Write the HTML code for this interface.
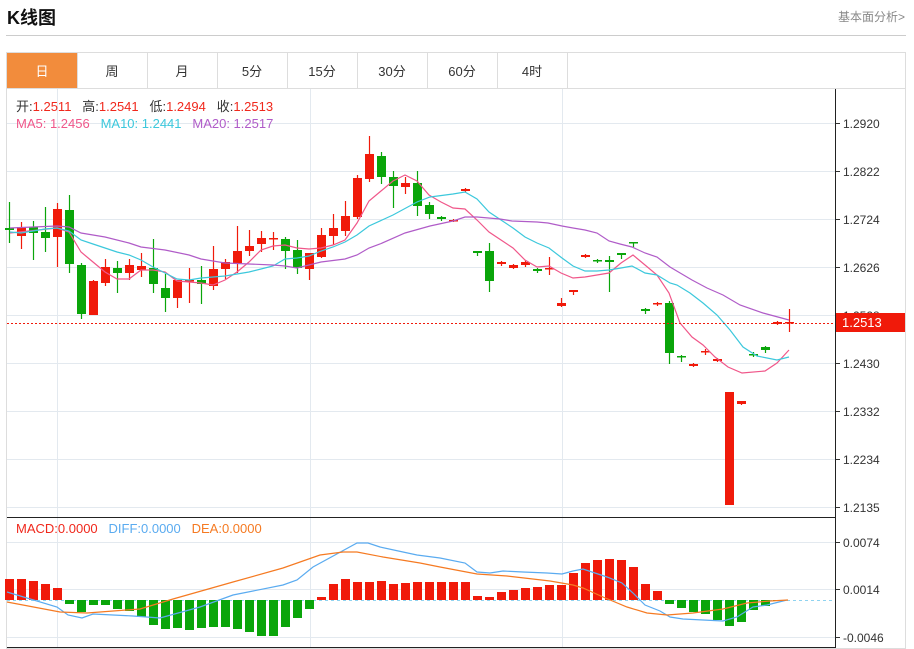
<!DOCTYPE html>
<html><head><meta charset="utf-8"><style>
body{margin:0;background:#fff;font-family:"Liberation Sans","Noto Sans CJK SC",sans-serif;}
#w{position:relative;width:914px;height:649px;overflow:hidden;}
.t{position:absolute;white-space:nowrap}
</style></head><body><div id="w">
<div class="t" style="left:7px;top:4px;font-size:18px;font-weight:bold;color:#111">K线图</div>
<div class="t" style="left:838px;top:8px;font-size:12px;color:#888">基本面分析&gt;</div>
<div style="position:absolute;left:6px;top:35px;width:900px;height:1px;background:#ccc"></div>
<svg id="s" width="914" height="649" style="position:absolute;left:0;top:0"></svg>
<div class="t" style="left:16px;top:96px;font-size:13px;color:#333">开:<span style="color:#f0281c">1.2511</span>&nbsp;&nbsp;&nbsp;高:<span style="color:#f0281c">1.2541</span>&nbsp;&nbsp;&nbsp;低:<span style="color:#f0281c">1.2494</span>&nbsp;&nbsp;&nbsp;收:<span style="color:#f0281c">1.2513</span></div>
<div class="t" style="left:16px;top:116px;font-size:13px"><span style="color:#f0578a">MA5: 1.2456</span>&nbsp;&nbsp;&nbsp;<span style="color:#3cc8dc">MA10: 1.2441</span>&nbsp;&nbsp;&nbsp;<span style="color:#b05cc8">MA20: 1.2517</span></div>
<div class="t" style="left:16px;top:521px;font-size:13px"><span style="color:#f0281c">MACD:0.0000</span>&nbsp;&nbsp;&nbsp;<span style="color:#5aabf0">DIFF:0.0000</span>&nbsp;&nbsp;&nbsp;<span style="color:#f57a22">DEA:0.0000</span></div>
</div>
<script>
var s='';
function L(x1,y1,x2,y2,c,w,d){s+='<line x1="'+x1+'" y1="'+y1+'" x2="'+x2+'" y2="'+y2+'" stroke="'+c+'" stroke-width="'+(w||1)+'"'+(d?' stroke-dasharray="'+d+'"':'')+'/>';}
function R(x,y,w,h,c){s+='<rect x="'+x+'" y="'+y+'" width="'+w+'" height="'+h+'" fill="'+c+'"/>';}
function T(x,y,t,c,sz,a){s+='<text x="'+x+'" y="'+y+'" fill="'+c+'" font-size="'+(sz||12)+'" text-anchor="'+(a||'start')+'" font-family="Liberation Sans, Noto Sans CJK SC, sans-serif">'+t+'</text>';}
function P(pts,c){s+='<polyline fill="none" stroke="'+c+'" stroke-width="1.2" points="'+pts+'"/>';}
s+='<rect x="6.5" y="52.5" width="899" height="596" fill="none" stroke="#ddd"/>';
var tabs=['日','周','月','5分','15分','30分','60分','4时'];
R(7,53,70,35,'#f28c3c');
for(var i=0;i<8;i++){var x=7+70*i;L(x+70.5,53,x+70.5,88,'#ddd');T(x+35,76,tabs[i],i==0?'#fff':'#333',13,'middle');}
L(7,88.5,905,88.5,'#ddd');
var gy=[123,171,219,267,315,363,411,459,507],gl=['1.2920','1.2822','1.2724','1.2626','1.2528','1.2430','1.2332','1.2234','1.2135'];
for(i=0;i<9;i++){L(7,gy[i]+.5,835,gy[i]+.5,'#e3e9ef');L(835,gy[i]+.5,840,gy[i]+.5,'#333');T(843,gy[i]+5,gl[i],'#333',12);}
[57,310,562].forEach(function(x){L(x+.5,89,x+.5,647,'#e3e9ef');});
var my=[542,589,637],ml=['0.0074','0.0014','-0.0046'];
for(i=0;i<3;i++){L(7,my[i]+.5,835,my[i]+.5,'#e3e9ef');L(835,my[i]+.5,840,my[i]+.5,'#333');T(843,my[i]+5,ml[i],'#333',12);}
L(7,517.5,835,517.5,'#222');L(7,647.5,835,647.5,'#222');
L(835.5,89,835.5,648,'#222');
var C=[[228,230,202,243,'g'],[227,236,222,249,'r'],[227,233,221,260,'g'],[232,238,207,252,'g'],[209,237,203,267,'r'],[210,264,195,273,'g'],[265,314,263,319,'g'],[281,315,280,315,'r'],[267,283,259,286,'r'],[268,273,261,293,'g'],[265,273,259,280,'r'],[266,270,253,277,'r'],[268,284,239,293,'g'],[288,298,274,312,'g'],[280,298,280,308,'r'],[280,281,268,303,'r'],[280,284,266,304,'g'],[269,286,246,290,'r'],[262,269,259,279,'r'],[251,263,226,273,'r'],[246,251,230,256,'r'],[238,244,231,252,'r'],[238,239,232,250,'r'],[239,251,237,269,'g'],[250,268,240,274,'g'],[253,269,253,280,'r'],[235,257,228,258,'r'],[228,236,214,245,'r'],[216,231,201,236,'r'],[178,217,175,219,'r'],[154,179,136,182,'r'],[156,177,152,184,'g'],[177,186,171,208,'g'],[183,187,177,194,'r'],[183,206,171,216,'g'],[205,214,202,219,'g'],[217,219,216,221,'g'],[220,221,219,222,'r'],[189,191,188,192,'r'],[251,253,251,256,'g'],[251,281,243,292,'g'],[262,264,261,266,'r'],[265,268,264,269,'r'],[262,265,260,267,'r'],[269,271,268,273,'g'],[268,269,257,275,'r'],[303,306,298,307,'r'],[290,292,290,295,'r'],[255,257,254,258,'r'],[260,261,259,263,'g'],[260,262,256,292,'g'],[253,255,253,259,'g'],[242,243,242,247,'g'],[309,311,308,314,'g'],[303,304,302,306,'r'],[303,353,301,364,'g'],[356,357,355,362,'g'],[364,366,363,367,'r'],[351,352,349,355,'r'],[359,361,358,362,'r'],[392,505,392,505,'r'],[401,404,401,405,'r'],[354,355,352,357,'g'],[347,350,346,353,'g'],[322,324,321,325,'r'],[322,323,309,332,'r']];
var RC='#f01a0a',GC='#0aa50a';
C.forEach(function(c,i){var x=9.5+12*i,col=c[4]=='r'?RC:GC;L(x,c[2],x,c[3],col,1.2);R(x-4.5,c[0],9,Math.max(c[1]-c[0],1.5),col);});
P('10,233 57,228 69,232 81,252 93,262 105,272 117,279 129,279 141,270 153,270 165,272 177,281 189,282 201,283 213,285 225,280 237,272 249,262 261,250 273,246 285,245 297,248 309,249 321,248 333,245 345,240 357,223 369,201 381,191 393,181 405,175 417,181 429,195 441,202 453,208 465,209 477,220 489,232 501,240 513,248 525,260 537,267 549,266 561,273 573,278 585,277 597,275 609,273 621,263 633,255 645,265 657,275 669,293 680,323 692,337 703,345 715,357 728,367 742,373 765,371 777,363 789,350','#f0578a');
P('10,232 21,233 33,231 45,229 57,228 69,231 81,240 93,244 105,248 117,252 129,255 141,260 153,267 165,273 177,279 189,280 201,278 213,277 225,276 237,274 249,272 261,269 273,266 285,259 297,258 309,256 321,251 333,247 345,242 357,235 369,226 393,215 417,202 430,197 453,194 465,192 477,199 489,212 501,220 513,228 525,237 537,243 549,248 562,258 573,266 585,271 597,271 609,270 621,268 632,266 645,273 657,275 670,283 677,285 690,293 703,303 717,315 730,330 743,347 757,356 777,360 789,357','#3cc8dc');
P('10,228 33,227 57,226 69,227 81,233 105,237 129,243 141,247 165,250 189,255 201,259 225,263 249,264 273,265 285,266 297,268 309,265 321,262 345,259 357,255 369,248 380,244 405,233 430,226 453,221 465,217 477,217 500,219 512,221 537,222 548,223 562,226 573,228 585,230 597,233 609,241 620,244 632,247 645,253 657,257 670,267 692,280 707,288 723,295 740,305 763,313 789,320','#b05cc8');
L(7,323.5,835,323.5,'#f01a0a',1,'2,2');
R(836,313,69,19,'#f01a0a');T(842,327,'1.2513','#fff',13);
var M=[579,579,581,584,588,604,612,605,605,609,611,617,625,629,628,630,628,627,627,629,632,636,636,627,618,609,597,584,579,582,582,581,584,583,582,582,582,582,582,596,597,592,590,588,587,585,585,573,563,560,559,560,567,584,591,604,608,612,614,620,626,622,610,606,601,600];
L(7,600.5,835,600.5,'#8fd3f0',1,'3,3');
M.forEach(function(v,i){var x=9.5+12*i-4.5;if(v<600)R(x,v,9,600-v,RC);else if(v>600)R(x,600,9,v-600,GC);});
P('7,592 57,607 68,615 82,618 93,614 133,616 160,618 200,607 233,595 283,585 297,580 313,567 357,543 368,543 380,547 403,552 417,555 440,558 465,563 477,572 490,573 503,571 523,572 547,573 562,574 573,571 583,569 607,577 622,583 633,593 645,605 660,611 670,617 683,619 723,621 737,617 753,607 767,605 787,600','#5aabf0');
P('7,602 60,612 87,613 140,609 173,599 233,582 283,568 320,555 343,552 357,552 383,557 420,563 440,567 477,574 507,576 550,581 573,585 583,588 603,597 627,607 647,613 667,615 693,613 723,609 747,603 770,601 788,600','#f57a22');
document.getElementById('s').innerHTML=s;
</script>
</body></html>
